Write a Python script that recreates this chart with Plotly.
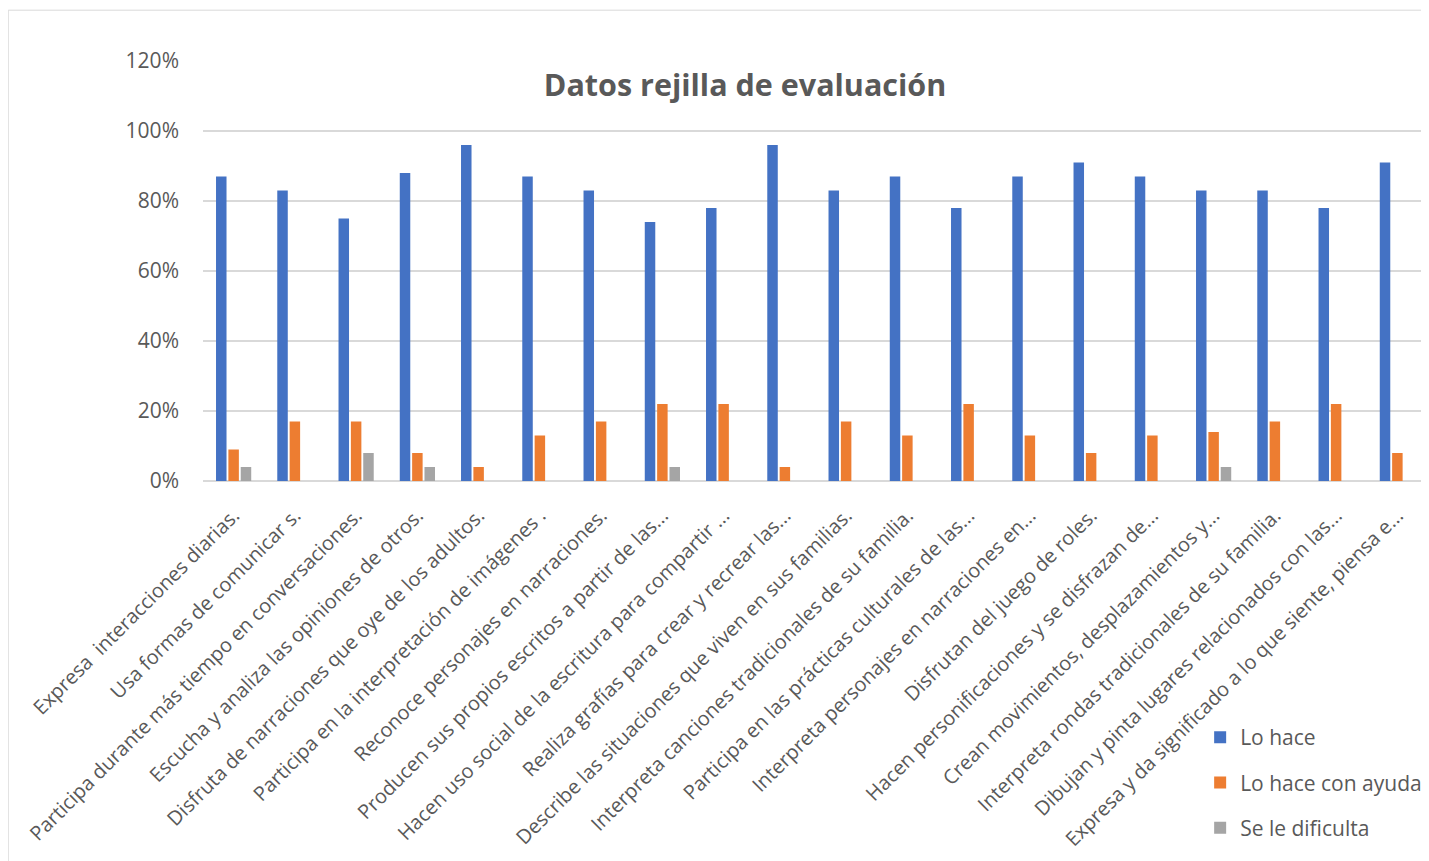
import plotly.graph_objects as go

categories = [
    "Expresa  interacciones diarias.",
    "Usa formas de comunicar s.",
    "Participa durante más tiempo en conversaciones.",
    "Escucha y analiza las opiniones de otros.",
    "Disfruta de narraciones que oye de los adultos.",
    "Participa en la interpretación de imágenes .",
    "Reconoce personajes en narraciones.",
    "Producen sus propios escritos a partir de las...",
    "Hacen uso social de la escritura para compartir ...",
    "Realiza grafías para crear y recrear las...",
    "Describe las situaciones que viven en sus familias.",
    "Interpreta canciones tradicionales de su familia.",
    "Participa en las prácticas culturales de las...",
    "Interpreta personajes en narraciones en...",
    "Disfrutan del juego de roles.",
    "Hacen personificaciones y se disfrazan de...",
    "Crean movimientos, desplazamientos y...",
    "Interpreta rondas tradicionales de su familia.",
    "Dibujan y pinta lugares relacionados con las...",
    "Expresa y da significado a lo que siente, piensa e...",
]

lo_hace = [0.87, 0.83, 0.75, 0.88, 0.96, 0.87, 0.83, 0.74, 0.78, 0.96,
           0.83, 0.87, 0.78, 0.87, 0.91, 0.87, 0.83, 0.83, 0.78, 0.91]
con_ayuda = [0.09, 0.17, 0.17, 0.08, 0.04, 0.13, 0.17, 0.22, 0.22, 0.04,
             0.17, 0.13, 0.22, 0.13, 0.08, 0.13, 0.14, 0.17, 0.22, 0.08]
dificulta = [0.04, None, 0.08, 0.04, None, None, None, 0.04, None, None,
             None, None, None, None, None, None, 0.04, None, None, None]

series_names = ["Lo hace", "Lo hace con ayuda", "Se le dificulta"]
colors = ["#4472C4", "#ED7D31", "#A5A5A5"]
y_ticks = [0, 0.2, 0.4, 0.6, 0.8, 1.0, 1.2]

text_color = "#595959"
font_family = "Open Sans"

fig = go.Figure()
for name, vals, col in zip(series_names, [lo_hace, con_ayuda, dificulta], colors):
    fig.add_trace(go.Bar(
        x=categories, y=vals, name=name, legendgroup=name,
        marker=dict(color=col, line=dict(width=0)),
    ))

fig.update_layout(
    width=1421, height=853,
    margin=dict(l=195, r=1, t=53, b=380, autoexpand=False),
    paper_bgcolor="white", plot_bgcolor="white",
    barmode="group", bargap=0.395, bargroupgap=0.15,
    font=dict(family=font_family, color=text_color),
    title=dict(
        text="<b>Datos rejilla de evaluación</b>",
        x=0.4425, xref="paper", xanchor="center",
        y=0.943, yref="paper", yanchor="middle",
        font=dict(size=30.5, color=text_color, family=font_family),
    ),
    legend=dict(
        x=0.814, y=-0.562, xanchor="left", yanchor="top",
        font=dict(size=21, color=text_color),
        tracegroupgap=15, bgcolor="rgba(0,0,0,0)",
        itemclick=False,
    ),
    showlegend=True,
)

fig.update_xaxes(
    tickangle=-45, tickfont=dict(size=20, color=text_color),
    showgrid=False, showline=False, ticks="", automargin=False,
    ticklabelstandoff=18,
)
fig.update_yaxes(
    range=[0, 1.2], tickvals=y_ticks, tickformat=".0%",
    tickfont=dict(size=21, color=text_color),
    showgrid=True, gridcolor="#D9D9D9", gridwidth=1.5,
    zeroline=True, zerolinecolor="#D9D9D9", zerolinewidth=1.5,
    showline=False, ticks="", ticklabelstandoff=23, automargin=False,
)

fig.add_shape(
    type="rect", xref="paper", yref="paper",
    x0=-0.159, x1=1.05, y0=-0.93, y1=1.121,
    line=dict(color="#D9D9D9", width=1), fillcolor="rgba(0,0,0,0)", layer="below",
)

fig.write_html("out.html")
